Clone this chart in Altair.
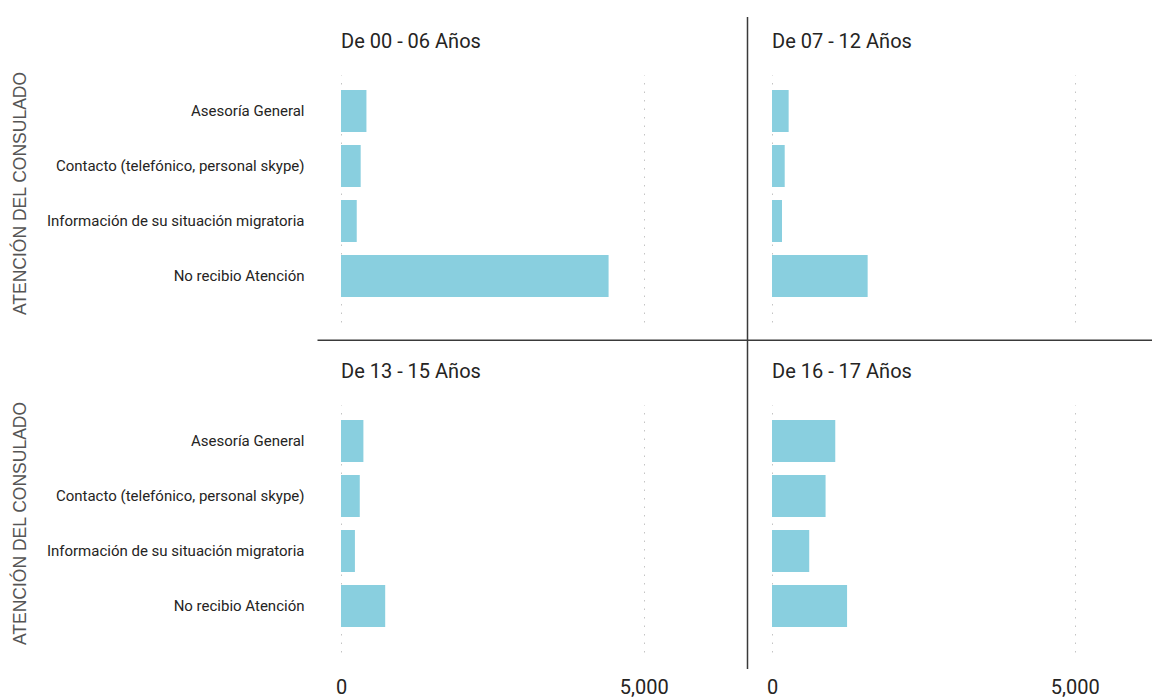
import altair as alt
import pandas as pd

# ---- data ----
groups = ["De 00 - 06 Años", "De 07 - 12 Años", "De 13 - 15 Años", "De 16 - 17 Años"]
categories = [
    "Asesoría General",
    "Contacto (telefónico, personal skype)",
    "Información de su situación migratoria",
    "No recibio Atención",
]
v_00_06 = [420, 325, 260, 4420]
v_07_12 = [275, 210, 165, 1580]
v_13_15 = [370, 310, 230, 730]
v_16_17 = [1045, 885, 615, 1240]
x_ticks = [0, 5000]
axis_title = "ATENCIÓN DEL CONSULADO"

# ---- styling / layout ----
W = 375
H = 247
XMAX = 5000 * W / 302.7
BAR = "#89CFDF"
TXT = "#252423"
LINE = "#3a3a3a"
FONT = "Roboto"


def panel(name, vals, left, bottom, rules):
    df = pd.DataFrame({"cat": categories, "val": vals})
    x_axis = alt.Axis(
        values=x_ticks,
        labels=bottom,
        format=",d",
        grid=True,
        gridDash=[1.5, 7],
        gridColor="#c4c4c4",
        gridWidth=1,
        ticks=False,
        tickSize=0,
        domain=False,
        title=None,
        labelFont=FONT,
        labelFontSize=20,
        labelColor=TXT,
        labelPadding=25,
        labelFlush=False,
        labelAlign="center",
    )
    if left:
        y_axis = alt.Axis(
            title=axis_title,
            ticks=False,
            tickSize=0,
            domain=False,
            labelFont=FONT,
            labelFontSize=15,
            labelColor=TXT,
            labelPadding=37,
            labelLimit=400,
            titleFont="Liberation Sans",
            titleFontSize=17.5,
            titleFontWeight="normal",
            titleColor="#555555",
            titleX=-312,
            titleY=118,
            titleBaseline="bottom",
        )
    else:
        y_axis = None
    bars = (
        alt.Chart(df)
        .mark_bar(color=BAR)
        .encode(
            x=alt.X("val:Q", scale=alt.Scale(domain=[0, XMAX], nice=False, zero=True), axis=x_axis),
            y=alt.Y(
                "cat:N",
                sort=categories,
                scale=alt.Scale(paddingInner=0.236, paddingOuter=0.364, align=0.375),
                axis=y_axis,
            ),
        )
    )
    title = (
        alt.Chart(alt.Data(values=[{"t": name}]))
        .mark_text(align="left", baseline="alphabetic", font=FONT, fontSize=20, color=TXT)
        .encode(x=alt.value(0), y=alt.value(-26.7), text="t:N")
    )
    layers = [bars, title]
    for r in rules:
        layers.append(
            alt.Chart(alt.Data(values=[{"r": 1}]))
            .mark_rule(color=LINE, strokeWidth=1.5)
            .encode(**r)
        )
    return alt.layer(*layers).properties(width=W, height=H)


vertical_sep = dict(x=alt.value(-24.5), y=alt.value(-58), y2=alt.value(594))
horizontal_sep = dict(y=alt.value(265.3), x=alt.value(-23.5), x2=alt.value(811))

tl = panel(groups[0], v_00_06, True, False, [horizontal_sep])
tr = panel(groups[1], v_07_12, False, False, [vertical_sep])
bl = panel(groups[2], v_13_15, True, True, [])
br = panel(groups[3], v_16_17, False, True, [])

chart = (
    alt.concat(tl, tr, bl, br, columns=2, spacing={"row": 83, "column": 431 - W}, bounds="flush")
    .properties(padding={"left": 3, "top": 8, "right": 0, "bottom": 0}, background="white")
    .configure_view(stroke=None)
)

chart.save("out.html", embed_options={"renderer": "svg", "actions": False})
